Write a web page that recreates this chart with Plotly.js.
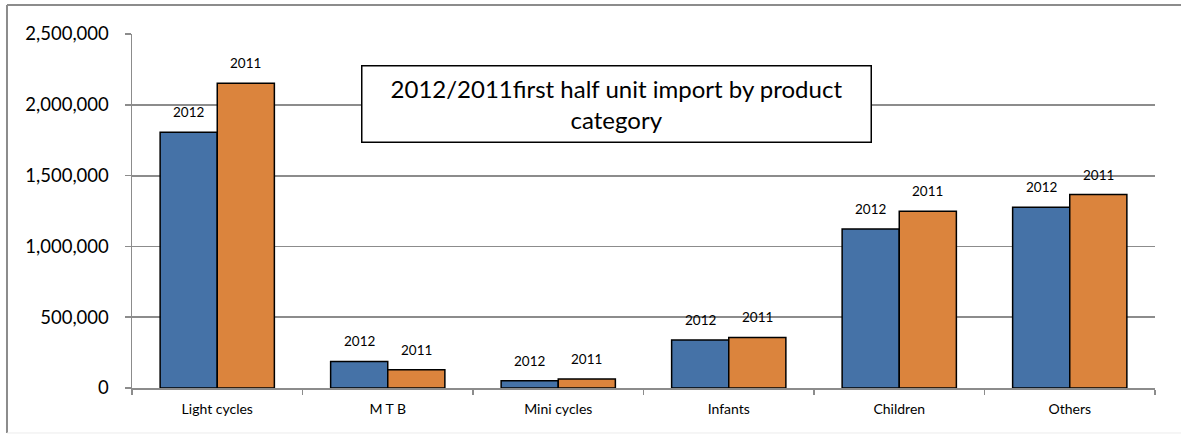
<!DOCTYPE html>
<html>
<head>
<meta charset="utf-8">
<script src="https://cdn.plot.ly/plotly-3.0.1.min.js"></script>
<style>
  html, body { margin: 0; padding: 0; background: #fff; overflow: hidden; }
  #chart { width: 1181px; height: 435px; }
</style>
</head>
<body>
<div id="chart"></div>
<script>
// categories and series
const categories = ["Light cycles", "M T B", "Mini cycles", "Infants", "Children", "Others"];
const units2012 = [1806000, 188000, 52000, 339000, 1122000, 1277000];
const units2011 = [2152000, 129000, 63000, 357000, 1249000, 1366000];
const yTicks = [0, 500000, 1000000, 1500000, 2000000, 2500000];

const chartTitle = "2012/2011first half unit import by product<br>category";

const FONT = "Lato, 'Open Sans', sans-serif";
const GRID = "#8c8c8c";

function barTrace(name, values, color) {
    return {
        type: "bar",
        name: name,
        x: categories,
        y: values,
        marker: { color: color, line: { color: "#000", width: 1.5 } },
        hoverinfo: "x+y"
    };
}

const traces = [
    barTrace("2012", units2012, "#4572A7"),
    barTrace("2011", units2011, "#DB843D")
];

// series-name labels above each bar
function seriesLabels(name, values, shift) {
    return values.map((v, i) => ({
        x: categories[i],
        y: v,
        xref: "x",
        yref: "y",
        text: name,
        showarrow: false,
        xshift: shift,
        yshift: 20,
        font: { family: FONT, size: 13.5, color: "#000" }
    }));
}

const annotations = [
    ...seriesLabels("2012", units2012, -28.5),
    ...seriesLabels("2011", units2011, 28.5),
    {
        xref: "paper", yref: "paper",
        x: 0.474, y: 0.801,
        xanchor: "center", yanchor: "middle",
        text: chartTitle,
        showarrow: false,
        align: "center",
        width: 506,
        height: 73,
        bgcolor: "#fff",
        bordercolor: "#000",
        borderwidth: 1.5,
        font: { family: FONT, size: 24, color: "#000" }
    }
];

// chart-area frame: left and top edges visible, bottom very faint
const frameLeft = -0.1222, frameRight = 1.03, frameTop = 1.0819, frameBottom = -0.1271;
const shapes = [
    { type: "line", xref: "paper", yref: "paper", x0: frameLeft, x1: frameLeft, y0: frameBottom, y1: frameTop,
      line: { color: GRID, width: 2 } },
    { type: "line", xref: "paper", yref: "paper", x0: frameLeft, x1: frameRight, y0: frameTop, y1: frameTop,
      line: { color: GRID, width: 2 } },
    { type: "line", xref: "paper", yref: "paper", x0: frameLeft, x1: frameRight, y0: frameBottom, y1: frameBottom,
      line: { color: "#ececec", width: 1 } }
];

const layout = {
    width: 1181,
    height: 435,
    margin: { l: 132, r: 26, t: 34, b: 47 },
    paper_bgcolor: "#fff",
    plot_bgcolor: "#fff",
    showlegend: false,
    barmode: "group",
    bargap: 0.33,
    bargroupgap: 0,
    font: { family: FONT, color: "#000" },
    xaxis: {
        type: "category",
        showline: true,
        linecolor: GRID,
        linewidth: 1.5,
        ticks: "outside",
        tickson: "boundaries",
        ticklen: 5,
        tickcolor: GRID,
        tickwidth: 1.5,
        ticklabelstandoff: 8,
        showgrid: false,
        tickfont: { family: FONT, size: 14, color: "#000" }
    },
    yaxis: {
        range: [0, 2500000],
        tickvals: yTicks,
        tickformat: ",",
        showline: true,
        linecolor: GRID,
        linewidth: 1.5,
        ticks: "outside",
        ticklen: 6,
        tickcolor: GRID,
        tickwidth: 1.5,
        ticklabelstandoff: 12,
        showgrid: true,
        gridcolor: GRID,
        gridwidth: 1.8,
        zeroline: false,
        tickfont: { family: FONT, size: 18.5, color: "#000" }
    },
    shapes: shapes,
    annotations: annotations
};

Plotly.newPlot("chart", traces, layout, { displayModeBar: false, staticPlot: true });
</script>
</body>
</html>
